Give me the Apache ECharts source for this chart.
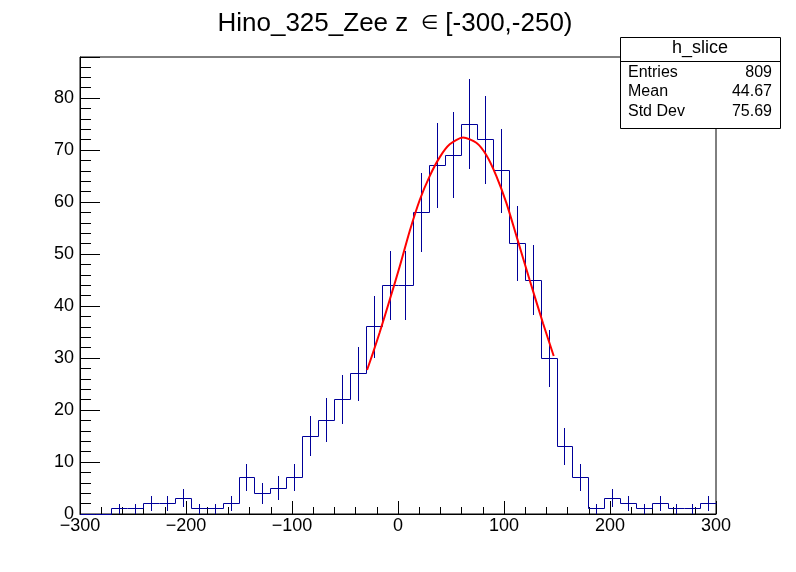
<!DOCTYPE html>
<html>
<head>
<meta charset="utf-8">
<script src="https://cdn.jsdelivr.net/npm/echarts@6/dist/echarts.min.js"></script>
<style>
html,body{margin:0;padding:0;background:#fff;}
#c{width:796px;height:572px;}
</style>
</head>
<body>
<div id="c"></div>
<script>
// Histogram: 40 bins of width 15 from -300 to 300
const xMin = -300;
const xMax = 300;
const binWidth = 15;
const counts = [0,0,1,1,2,2,3,1,1,2,7,4,5,7,15,18,22,27,36,44,44,58,67,69,75,72,66,52,45,30,13,7,1,3,2,1,2,1,1,2];

// Gaussian fit curve
const fitX = [-29.2,-23.6,-17.3,-7.8,1.6,11.0,20.5,29.9,39.3,48.8,61.3,73.9,83.4,92.8,102.3,111.7,124.2,136.8,146.9];
const fitY = [27.7,31.0,34.9,41.2,47.6,54.4,60.4,65.0,68.6,71.1,72.4,71.4,69.0,65.0,59.8,53.5,45.0,36.7,30.4];

const xTicks = [-300,-200,-100,0,100,200,300];
const yTicks = [0,10,20,30,40,50,60,70,80];

const titleMain = 'Hino_325_Zee z \u2009';
const titleSym = '\u2208';
const titleRange = ' [-300,-250)';
const statsName = 'h_slice';
const statsLabels = ['Entries','Mean','Std Dev'];
const statsValues = ['809','44.67','75.69'];

const histColor = '#000099';

// one item per bin: [left edge, right edge, content, previous content]
const binData = counts.map((c, i) => [xMin + i * binWidth, xMin + (i + 1) * binWidth, c, i > 0 ? counts[i - 1] : 0]);

// Poisson error bars at bin centres
const errData = [];
counts.forEach((c, i) => {
  if (c > 0) {
    const e = Math.sqrt(c);
    errData.push([xMin + (i + 0.5) * binWidth, c - e, c + e]);
  }
});

const fitData = fitX.map((x, i) => [x, fitY[i]]);

const snap = v => Math.round(v - 0.5) + 0.5;

const chart = echarts.init(document.getElementById('c'), null, {renderer: 'canvas'});
const font = 'Liberation Sans, Arial, Helvetica, sans-serif';

const rowY = [36, 55, 74.3];
const statsChildren = [
  {type: 'rect', shape: {x: 0.5, y: 0.5, width: 160, height: 91}, style: {fill: '#fff', stroke: '#000', lineWidth: 1}},
  {type: 'line', shape: {x1: 0.5, y1: 24.5, x2: 160.5, y2: 24.5}, style: {stroke: '#000', lineWidth: 1}},
  {type: 'text', x: 80, y: 11, style: {text: statsName, font: '18px ' + font, fill: '#000', textAlign: 'center', textVerticalAlign: 'middle'}}
];
statsLabels.forEach((l, i) => {
  statsChildren.push({type: 'text', x: 8, y: rowY[i], style: {text: l, font: '16px ' + font, fill: '#000', textAlign: 'left', textVerticalAlign: 'middle'}});
  statsChildren.push({type: 'text', x: 152, y: rowY[i], style: {text: statsValues[i], font: '16px ' + font, fill: '#000', textAlign: 'right', textVerticalAlign: 'middle'}});
});

chart.setOption({
  animation: false,
  backgroundColor: '#ffffff',
  grid: {left: 80, right: 80, top: 57, bottom: 58, show: true, borderColor: '#000', borderWidth: 1, backgroundColor: 'transparent'},
  xAxis: {
    type: 'value', min: xMin, max: xMax, interval: 100,
    axisLine: {show: true, onZero: false, lineStyle: {color: '#000', width: 1}},
    axisTick: {show: true, inside: true, length: 13, lineStyle: {color: '#000'}},
    minorTick: {show: true, splitNumber: 5, length: 7, lineStyle: {color: '#000'}},
    splitLine: {show: false},
    axisLabel: {
      margin: 3, color: '#000', fontSize: 18, fontFamily: font,
      formatter: v => (xTicks.indexOf(v) >= 0 ? String(v).replace('-', '\u2212') : '')
    }
  },
  yAxis: {
    type: 'value', min: 0, max: 87.9, interval: 10,
    axisLine: {show: true, onZero: false, lineStyle: {color: '#000', width: 1}},
    axisTick: {show: true, inside: true, length: 20, lineStyle: {color: '#000'}},
    minorTick: {show: true, splitNumber: 5, length: 11, lineStyle: {color: '#000'}},
    splitLine: {show: false},
    axisLabel: {
      margin: 6, color: '#000', fontSize: 18, fontFamily: font,
      formatter: v => (yTicks.indexOf(v) >= 0 ? String(v) : '')
    }
  },
  series: [
    {
      type: 'custom', data: binData, z: 3,
      renderItem: function (params, api) {
        const pl = api.coord([api.value(0), api.value(3)]);
        const p1 = api.coord([api.value(0), api.value(2)]);
        const p2 = api.coord([api.value(1), api.value(2)]);
        return {type: 'polyline',
                shape: {points: [[snap(pl[0]), snap(pl[1])], [snap(p1[0]), snap(p1[1])], [snap(p2[0]), snap(p2[1])]]},
                style: {stroke: histColor, lineWidth: 1, fill: null}};
      }
    },
    {
      type: 'custom', data: errData, z: 3,
      renderItem: function (params, api) {
        const p1 = api.coord([api.value(0), api.value(1)]);
        const p2 = api.coord([api.value(0), api.value(2)]);
        const x = snap(p1[0]);
        return {type: 'line', shape: {x1: x, y1: Math.round(p1[1]), x2: x, y2: Math.round(p2[1])},
                style: {stroke: histColor, lineWidth: 1}};
      }
    },
    {
      type: 'line', data: fitData, smooth: 0.25, symbol: 'none',
      lineStyle: {color: '#ff0000', width: 2}, z: 4
    }
  ],
  graphic: [
    {type: 'text', x: 395, y: 24,
     style: {
       text: '{a|' + titleMain + '}{s|' + titleSym + '}{a|' + titleRange + '}',
       align: 'center', verticalAlign: 'middle',
       rich: {
         a: {fontSize: 26, fontFamily: font, fill: '#000', color: '#000'},
         s: {fontSize: 20, fontFamily: 'DejaVu Sans, sans-serif', fill: '#000', color: '#000'}
       }
     }},
    {type: 'group', x: 620, y: 37, children: statsChildren}
  ]
});
</script>
</body>
</html>
